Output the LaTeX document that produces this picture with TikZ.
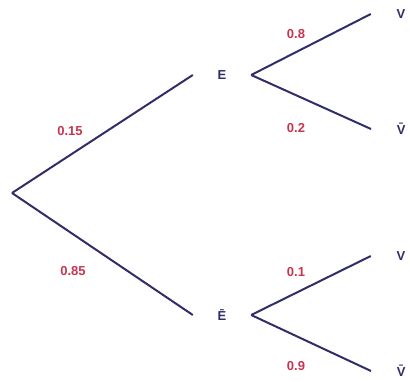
\documentclass[tikz,border=0pt]{standalone}
\usepackage{fontspec}
\setmainfont{Liberation Sans}
\definecolor{navy}{RGB}{48,46,104}
\definecolor{prob}{RGB}{200,52,78}
\begin{document}
\begin{tikzpicture}[x=1pt,y=-1pt,
  branch/.style={draw=navy,line width=2pt},
  event/.style={text=navy,font=\bfseries\fontsize{13}{15}\selectfont,inner sep=0pt,minimum width=58pt},
  leaf/.style={text=navy,font=\bfseries\fontsize{13}{15}\selectfont,inner sep=0pt,minimum width=60pt},
  plab/.style={text=prob,font=\bfseries\fontsize{13}{15}\selectfont,inner sep=0pt}]
\useasboundingbox (0,0) rectangle (410,382);
\coordinate (root) at (12,193);
\node[event] (E) at (222,75) {E};
\node[event] (Eb) at (222,315) {\=E};
\node[leaf] (V1) at (401,14) {V};
\node[leaf,anchor=west] (V2) at (371,129) {\raisebox{-4pt}{\=V}};
\node[leaf] (V3) at (401,256) {V};
\node[leaf,anchor=west] (V4) at (371,371) {\raisebox{-4pt}{\=V}};
\draw[branch] (root) -- (E.west);
\draw[branch] (root) -- (Eb.west);
\draw[branch] (E.east) -- (V1.west);
\draw[branch] (E.east) -- (V2.west);
\draw[branch] (Eb.east) -- (V3.west);
\draw[branch] (Eb.east) -- (V4.west);
\node[plab] (p1) at (70,131) {0.15};
\node[plab] (p2) at (73,271) {0.85};
\node[plab] (p3) at (296,34) {0.8};
\node[plab] (p4) at (296,128) {0.2};
\node[plab] (p5) at (296,272) {0.1};
\node[plab] (p6) at (296,366) {0.9};
\end{tikzpicture}
\end{document}
